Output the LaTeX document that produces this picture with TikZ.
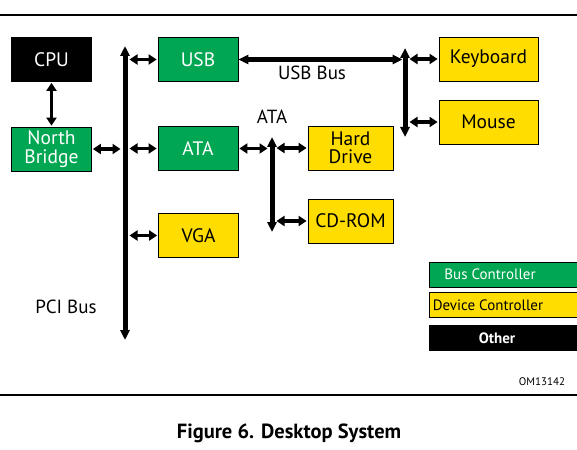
\documentclass[tikz,border=0pt]{standalone}
\usepackage{fontspec}
\setmainfont{PT Sans}
\usetikzlibrary{arrows.meta}

\definecolor{busgreen}{RGB}{0,166,81}
\definecolor{devyellow}{RGB}{255,221,0}

\begin{document}
\begin{tikzpicture}[x=1pt, y=-1pt, >={Triangle[length=8pt,width=10pt]}, font=\fontsize{19}{17}\selectfont]
        \tikzstyle{box}=[draw=black, line width=0.8pt, minimum width=80pt, minimum height=44pt, inner sep=0pt, align=center, font=\fontsize{19.5}{18.5}\selectfont]
        \tikzstyle{busctrl}=[box, fill=busgreen, text=white]
        \tikzstyle{devctrl}=[box, fill=devyellow, text=black]
        \tikzstyle{other}=[box, fill=black, text=white]
        \tikzstyle{legend}=[box, minimum width=152pt, minimum height=25pt]
        \tikzstyle{link}=[<->, line width=3.5pt, shorten <=1pt, shorten >=4.5pt]
        \tikzstyle{bus}=[<->, line width=5pt, >={Triangle[length=10pt,width=9pt]}]

        \useasboundingbox (0,0) rectangle (577,449);

        % rules above and below the figure
        \draw[line width=2pt] (0,15) -- (577,15);
        \draw[line width=2pt] (0,395) -- (577,395);

        \node[other]    (cpu)   at (51.5,59.5)  {CPU};
        \node[busctrl]  (nb)    at (51.5,149)   {North\\Bridge};
        \node[busctrl]  (usb)   at (198,59.5)   {USB};
        \node[busctrl]  (ata)   at (198,148.5)  {ATA};
        \node[devctrl]  (vga)   at (198.5,235.5){VGA};
        \node[devctrl, minimum width=99pt]  (kbd)   at (488.5,59)   {Keyboard};
        \node[devctrl, minimum width=99pt]  (mouse) at (488.5,122)  {Mouse};
        \node[devctrl, minimum width=85pt]  (hdd)   at (350.5,148)  {Hard\\Drive};
        \node[devctrl, minimum width=85pt]  (cdrom) at (350.5,221)  {CD-ROM};

        % bus ends
        \coordinate (pcitop) at (125,46);
        \coordinate (pcibot) at (125,340);
        \coordinate (usbtop) at (405,48);
        \coordinate (usbbot) at (405,137);
        \coordinate (atatop) at (272,137);
        \coordinate (atabot) at (272,232);

        \draw[bus] (pcitop) -- (pcibot);
        \draw[bus] (usbtop) -- (usbbot);
        \draw[bus] (atatop) -- (atabot);

        \path
            (cpu)   edge[link, shorten >=1pt]   (nb)
            (nb)    edge[link]      (nb -| pcitop)
            (usb)   edge[link]      (usb -| pcitop)
            (ata)   edge[link]      (ata -| pcitop)
            (vga)   edge[link]      (vga -| pcitop)
            (ata)   edge[link]      (ata -| atatop)
            (hdd)   edge[link]      (hdd -| atatop)
            (cdrom) edge[link]      (cdrom -| atatop)
            (kbd)   edge[link]      (kbd -| usbtop)
            (mouse) edge[link]      (mouse -| usbtop)
            (usb)   edge[bus, shorten >=2.5pt]  (usb -| usbtop)
        ;

        \node (usbbus) at (312,73)  {USB Bus};
        \node (atabus) at (272,117) {ATA};
        \node (pcibus) at (66,307)  {PCI Bus};

        % legend
        \node[legend, fill=busgreen,  label={[text=white, xshift=-15pt, font=\fontsize{15}{15}\selectfont]center:Bus Controller}]    (lbus)   at (505,274.5) {};
        \node[legend, fill=devyellow, label={[text=black, xshift=-17pt, font=\fontsize{15}{15}\selectfont]center:Device Controller}] (ldev)   at (505,305)   {};
        \node[legend, fill=black,     label={[text=white, xshift=-8pt, font=\fontsize{15}{15}\selectfont\bfseries]center:Other}] (lother) at (505,338) {};

        \node[font=\fontsize{11}{11}\selectfont] (fignum) at (542,382) {OM13142};
        \node[font=\fontsize{20.5}{20}\selectfont\bfseries] (caption) at (289,433) {Figure 6. Desktop System};
    \end{tikzpicture}
\end{document}
